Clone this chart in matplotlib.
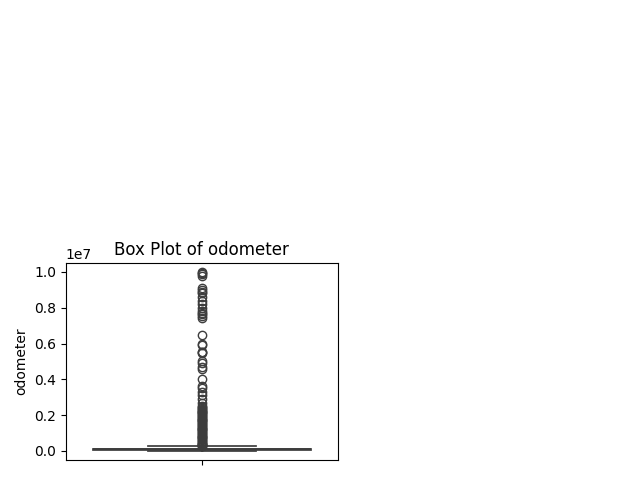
import numpy as np
import matplotlib
matplotlib.use("Agg")
from matplotlib import pyplot as plt

# summary stats of the odometer column
q1 = 37700
median = 85500
q3 = 133500
whis_lo = 0
whis_hi = 279000

# outliers above the upper whisker
fliers = [290000, 300000, 320000, 350000, 380000, 400000, 450000, 500000, 550000,
          600000, 650000, 700000, 750000, 800000, 850000, 900000, 950000, 999999,
          1050000, 1100000, 1150000, 1200000, 1250000, 1300000, 1350000, 1400000,
          1450000, 1500000, 1550000, 1600000, 1650000, 1700000, 1750000, 1800000,
          1850000, 1900000, 1950000, 2000000, 2050000, 2100000, 2150000, 2200000,
          2250000, 2300000, 2350000, 2400000, 2450000, 2500000,
          2700000, 2900000, 3100000, 3300000, 3500000, 3600000, 4000000, 4600000,
          4700000, 4900000, 5000000, 5450000, 5500000, 5550000, 5900000, 6000000,
          6450000, 7450000, 7550000, 7650000, 7700000, 7800000, 8000000, 8200000,
          8400000, 8600000, 8800000, 8900000, 9000000, 9100000, 9800000, 9900000,
          9950000, 9999999]

line_c = '#3d3d3d'

fig = plt.figure(figsize=(6.4, 4.8), dpi=100)
ax = fig.add_axes([0.103, 0.042, 0.425, 0.410])

stats = [dict(med=median, q1=q1, q3=q3, whislo=whis_lo, whishi=whis_hi, fliers=fliers)]
ax.bxp(stats, positions=[0], widths=0.8, patch_artist=True,
       capwidths=0.4,
       boxprops=dict(facecolor='#3274a1', edgecolor=line_c, lw=1.25),
       medianprops=dict(color=line_c, lw=1.25),
       whiskerprops=dict(color=line_c, lw=1.25),
       capprops=dict(color=line_c, lw=1.25),
       flierprops=dict(marker='o', markerfacecolor='none', markeredgecolor=line_c,
                       markersize=6, markeredgewidth=1.0))

ax.set_xlim(-0.5, 0.5)
ax.set_xticks([0])
ax.set_xticklabels([''])
ax.set_title('Box Plot of odometer')
ax.set_ylabel('odometer')

plt.savefig('out.png', dpi=100)
